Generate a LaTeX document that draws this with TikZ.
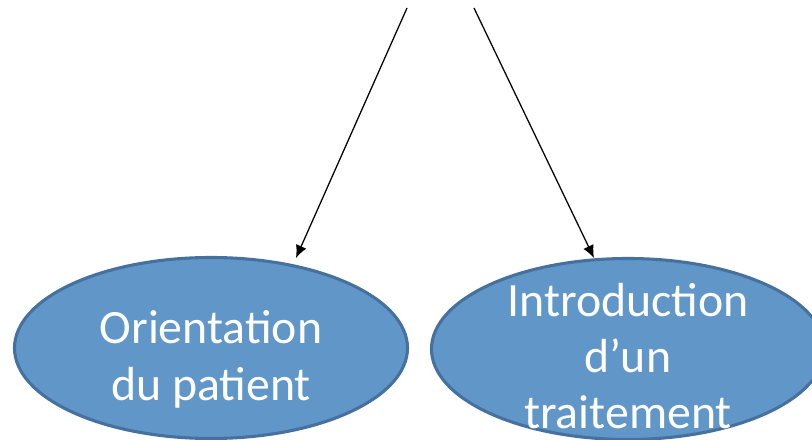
\documentclass[tikz,border=0pt]{standalone}
\usepackage{fontspec}
\setmainfont{Carlito}
\usetikzlibrary{shapes.geometric,arrows.meta}
\begin{document}
\begin{tikzpicture}[>={Latex[length=9pt,width=8pt]},x=0.025cm,y=-0.025cm,
  bulle/.style={ellipse,draw=bleuBord,line width=2.2pt,fill=bleuFond,
    minimum width=393*0.025cm,minimum height=181*0.025cm,inner sep=0pt},
  texte/.style={text=white,align=center,inner sep=0pt,font=\fontsize{34}{40}\selectfont}]
  \definecolor{bleuFond}{HTML}{6096C8}
  \definecolor{bleuBord}{HTML}{46719E}
  \useasboundingbox(0,0)rectangle(812,440);
  \clip(0,0)rectangle(812,440);
  \node[bulle](orient)at(211,348){};
  \node[bulle](intro)at(628,349){};
  \node[texte](orientT)at([yshift=-8pt]orient.center){Orientation\\du patient};
  \node[texte](introT)at([yshift=-5pt]intro.center){Introduction\\d’un\\traitement};
  \coordinate(hautA)at(407,8);
  \coordinate(hautB)at(474,8);
  \coordinate(pointeA)at(296,258);
  \coordinate(pointeB)at(594,258);
  \draw[->,line width=0.9pt](hautA)--(pointeA);
  \draw[->,line width=0.9pt](hautB)--(pointeB);
\end{tikzpicture}
\end{document}
